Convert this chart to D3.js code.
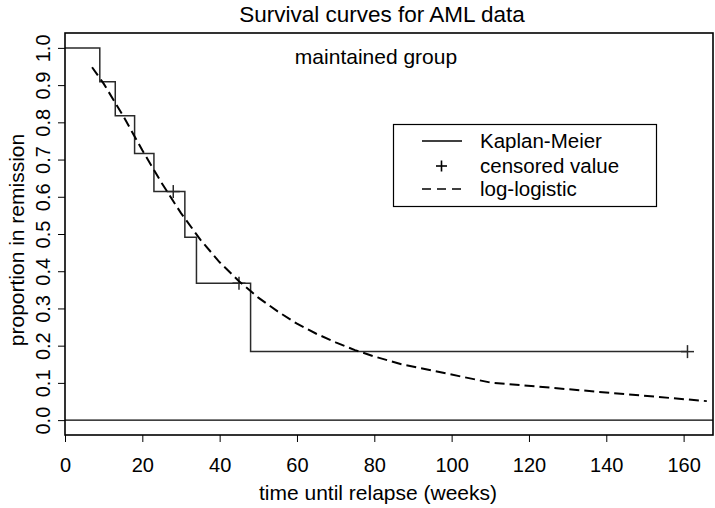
<!DOCTYPE html>
<html>
<head>
<meta charset="utf-8">
<script src="https://cdn.jsdelivr.net/npm/d3@7"></script>
<style>
  html, body { margin: 0; padding: 0; background: #fff; }
  svg text { font-family: "Liberation Sans", Arial, Helvetica, sans-serif; fill: #000; }
</style>
</head>
<body>
<svg id="chart" width="715" height="508"></svg>
<script>
// Kaplan-Meier step function (maintained group)
const kmTimes  = [0, 9, 13, 18, 23, 31, 34, 48, 161];
const kmSurv   = [1.0, 0.909, 0.818, 0.716, 0.614, 0.491, 0.368, 0.184, 0.184];
// censored observations
const censTimes = [28, 45, 161];
const censSurv  = [0.614, 0.368, 0.184];
// log-logistic fitted curve
const llTimes = [7, 10, 15, 20, 25, 30, 35, 40, 45, 50, 55, 60, 65, 70, 75, 80, 87, 110, 166];
const llSurv  = [0.948, 0.904, 0.818, 0.725, 0.637, 0.556, 0.485, 0.424, 0.373, 0.329, 0.292, 0.259, 0.232, 0.209, 0.188, 0.171, 0.150, 0.101, 0.051];
// ticks
const xTicks = [0, 20, 40, 60, 80, 100, 120, 140, 160];
const yTicks = [0.0, 0.1, 0.2, 0.3, 0.4, 0.5, 0.6, 0.7, 0.8, 0.9, 1.0];
const legendLabels = ["Kaplan-Meier", "censored value", "log-logistic"];

const svg = d3.select("#chart");
const L = 65, R = 713, T = 33, B = 435;
const FS_TICK = 20, FS_LAB = 21, FS_TITLE = 22.5, FS_LEG = 20.5;

const x = d3.scaleLinear().domain([0, 167.6]).range([L, R]);
const y = d3.scaleLinear().domain([-0.04, 1.04]).range([B, T]);

// zero reference line
svg.append("line")
  .attr("x1", L).attr("x2", R)
  .attr("y1", y(0)).attr("y2", y(0))
  .attr("stroke", "#000").attr("stroke-width", 1.2);

// KM step line
const kmData = kmTimes.map((t, i) => [t, kmSurv[i]]);
svg.append("path")
  .datum(kmData)
  .attr("fill", "none")
  .attr("stroke", "#2a2a2a")
  .attr("stroke-width", 1.5)
  .attr("d", d3.line().x(d => x(d[0])).y(d => y(d[1])).curve(d3.curveStepAfter));

// censored marks
const cens = censTimes.map((t, i) => [t, censSurv[i]]);
const plus = svg.append("g");
cens.forEach(d => {
  plus.append("line").attr("x1", x(d[0]) - 6.5).attr("x2", x(d[0]) + 6.5)
    .attr("y1", y(d[1])).attr("y2", y(d[1])).attr("stroke", "#2a2a2a").attr("stroke-width", 1.5);
  plus.append("line").attr("x1", x(d[0])).attr("x2", x(d[0]))
    .attr("y1", y(d[1]) - 6.5).attr("y2", y(d[1]) + 6.5).attr("stroke", "#2a2a2a").attr("stroke-width", 1.5);
});

// log-logistic dashed curve
const llData = llTimes.map((t, i) => [t, llSurv[i]]);
svg.append("path")
  .datum(llData)
  .attr("fill", "none")
  .attr("stroke", "#000")
  .attr("stroke-width", 2)
  .attr("stroke-dasharray", "10,5")
  .attr("d", d3.line().x(d => x(d[0])).y(d => y(d[1])));

// box
svg.append("rect")
  .attr("x", L).attr("y", T).attr("width", R - L).attr("height", B - T)
  .attr("fill", "none").attr("stroke", "#000").attr("stroke-width", 1.6);

// x axis
const xAxis = svg.append("g")
  .attr("transform", `translate(0,${B})`)
  .call(d3.axisBottom(x).tickValues(xTicks).tickSize(7).tickPadding(16).tickFormat(d3.format("d")));
xAxis.select(".domain").remove();
xAxis.selectAll("line").attr("stroke", "#000");
xAxis.selectAll("text").attr("font-size", FS_TICK).attr("font-family", "Liberation Sans, Arial, sans-serif");

// y axis
const yAxis = svg.append("g")
  .attr("transform", `translate(${L},0)`)
  .call(d3.axisLeft(y).tickValues(yTicks).tickSize(7).tickFormat(d3.format(".1f")));
yAxis.select(".domain").remove();
yAxis.selectAll("line").attr("stroke", "#000");
yAxis.selectAll("text")
  .attr("font-size", FS_TICK)
  .attr("font-family", "Liberation Sans, Arial, sans-serif")
  .attr("text-anchor", "middle")
  .attr("x", 0).attr("y", -15).attr("dy", 0)
  .attr("transform", "rotate(-90)");

// titles
svg.append("text").attr("x", 382).attr("y", 21.5).attr("text-anchor", "middle")
  .attr("font-size", FS_TITLE).text("Survival curves for AML data");
svg.append("text").attr("x", 378).attr("y", 500).attr("text-anchor", "middle")
  .attr("font-size", FS_LAB).text("time until relapse (weeks)");
svg.append("text").attr("transform", `translate(24,${(T + B) / 2 + 6}) rotate(-90)`)
  .attr("text-anchor", "middle").attr("font-size", FS_LAB).text("proportion in remission");
svg.append("text").attr("x", 376).attr("y", 64).attr("text-anchor", "middle")
  .attr("font-size", FS_LAB).text("maintained group");

// legend
const lg = svg.append("g");
lg.append("rect").attr("x", 393.5).attr("y", 124.5).attr("width", 263).attr("height", 82)
  .attr("fill", "#fff").attr("stroke", "#000").attr("stroke-width", 1.2);
const rowY = [141, 166, 189];
lg.append("line").attr("x1", 422).attr("x2", 462).attr("y1", rowY[0]).attr("y2", rowY[0])
  .attr("stroke", "#000").attr("stroke-width", 1.5);
lg.append("line").attr("x1", 436).attr("x2", 447).attr("y1", rowY[1]).attr("y2", rowY[1])
  .attr("stroke", "#000").attr("stroke-width", 1.6);
lg.append("line").attr("x1", 441.5).attr("x2", 441.5).attr("y1", rowY[1] - 5.5).attr("y2", rowY[1] + 5.5)
  .attr("stroke", "#000").attr("stroke-width", 1.6);
lg.append("line").attr("x1", 422).attr("x2", 462).attr("y1", rowY[2]).attr("y2", rowY[2])
  .attr("stroke", "#000").attr("stroke-width", 1.3).attr("stroke-dasharray", "9,6");
legendLabels.forEach((s, i) => {
  lg.append("text").attr("x", 480).attr("y", rowY[i] + 7).attr("font-size", FS_LEG).text(s);
});
</script>
</body>
</html>
